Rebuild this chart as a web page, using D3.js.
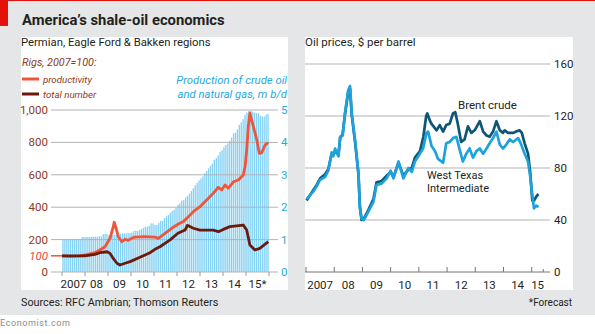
<!DOCTYPE html>
<html>
<head>
<meta charset="utf-8">
<script src="https://cdn.jsdelivr.net/npm/d3@7"></script>
<style>
  html, body { margin: 0; padding: 0; background: #fff; }
  svg { display: block; font-family: Roboto, "Open Sans", sans-serif; }
</style>
</head>
<body>
<svg id="chart" width="595" height="334"></svg>
<script>
// Monthly shale production, m b/d (Jan 2007 .. Dec 2015)
const production = [
  1.00, 1.00, 1.00, 1.00, 1.00, 1.00, 1.00, 1.00, 1.00, 1.00, 1.08, 1.08, // 2007
  1.08, 1.08, 1.08, 1.09, 1.09, 1.09, 1.09, 1.10, 1.10, 1.17, 1.18, 1.17, // 2008
  1.14, 1.13, 1.14, 1.15, 1.15, 1.16, 1.18, 1.19, 1.19, 1.19, 1.20, 1.20, // 2009
  1.22, 1.27, 1.27, 1.27, 1.30, 1.32, 1.36, 1.40, 1.40, 1.42, 1.50, 1.50, // 2010
  1.45, 1.45, 1.52, 1.58, 1.58, 1.66, 1.72, 1.76, 1.82, 1.88, 1.92, 1.98, // 2011
  2.07, 2.12, 2.20, 2.22, 2.30, 2.35, 2.42, 2.50, 2.58, 2.68, 2.75, 2.82, // 2012
  2.89, 2.95, 3.05, 3.12, 3.20, 3.28, 3.35, 3.46, 3.52, 3.60, 3.70, 3.76, // 2013
  3.85, 3.92, 3.97, 4.05, 4.15, 4.28, 4.30, 4.40, 4.54, 4.62, 4.72, 4.85, // 2014
  4.92, 4.98, 4.98, 4.95, 4.92, 4.90, 4.90, 4.82, 4.80, 4.80, 4.86, 4.88  // 2015
];

// Rigs, 2007=100 : [decimal year, index]
const productivity = [
  [2007.0, 100], [2007.35, 97], [2007.78, 100], [2008.0, 105], [2008.43, 119],
  [2008.65, 136], [2008.87, 156], [2009.09, 208], [2009.23, 280], [2009.27, 307],
  [2009.35, 270], [2009.45, 218], [2009.6, 187], [2009.74, 202], [2009.88, 195],
  [2010.03, 208], [2010.17, 215], [2010.6, 218], [2011.04, 215], [2011.19, 208],
  [2011.48, 239], [2011.77, 270], [2012.06, 296], [2012.27, 311], [2012.42, 331],
  [2012.71, 372], [2013.0, 403], [2013.29, 444], [2013.58, 486], [2013.8, 523],
  [2013.94, 506], [2014.09, 537], [2014.23, 517], [2014.45, 557], [2014.67, 568],
  [2014.88, 599], [2014.96, 650], [2015.03, 753], [2015.1, 897], [2015.17, 980],
  [2015.32, 897], [2015.47, 815], [2015.58, 732], [2015.68, 735], [2015.83, 784],
  [2015.97, 798]
];

const rigCount = [
  [2007.0, 100], [2008.0, 100], [2008.43, 109], [2008.65, 119], [2008.96, 125],
  [2009.09, 115], [2009.22, 85], [2009.39, 54], [2009.52, 43], [2009.74, 54],
  [2009.96, 64], [2010.39, 91], [2010.83, 119], [2011.04, 140], [2011.26, 156],
  [2011.7, 198], [2012.04, 239], [2012.35, 259], [2012.45, 288], [2012.71, 270],
  [2013.0, 259], [2013.58, 259], [2013.8, 249], [2014.01, 263], [2014.3, 280],
  [2014.88, 290], [2015.03, 259], [2015.17, 167], [2015.39, 136], [2015.6, 146],
  [2015.97, 187]
];

// Oil prices, $ per barrel : [decimal year, price]
const wti = [
  [2007.02, 56], [2007.26, 62], [2007.38, 66], [2007.5, 71], [2007.67, 73],
  [2007.79, 78], [2007.91, 92], [2007.97, 89], [2008.03, 95], [2008.15, 89],
  [2008.21, 104], [2008.3, 105], [2008.38, 122], [2008.5, 140], [2008.56, 143],
  [2008.62, 122], [2008.74, 101], [2008.86, 76], [2008.91, 50], [2008.97, 41],
  [2009.05, 40], [2009.15, 44], [2009.39, 54], [2009.5, 67], [2009.68, 68],
  [2009.86, 72], [2010.0, 78], [2010.1, 72], [2010.28, 85], [2010.45, 72],
  [2010.63, 80], [2010.75, 77], [2010.86, 85], [2010.98, 89], [2011.15, 95],
  [2011.27, 107], [2011.33, 108], [2011.45, 97], [2011.57, 93], [2011.68, 87],
  [2011.86, 84], [2011.97, 99], [2012.09, 100], [2012.21, 103], [2012.33, 104],
  [2012.45, 94], [2012.56, 85], [2012.68, 91], [2012.8, 95], [2012.92, 88],
  [2013.04, 93], [2013.16, 95], [2013.28, 91], [2013.4, 95], [2013.51, 99],
  [2013.63, 103], [2013.75, 108], [2013.87, 98], [2013.98, 95], [2014.1, 98],
  [2014.22, 102], [2014.34, 100], [2014.52, 103], [2014.63, 98], [2014.75, 91],
  [2014.87, 85], [2014.95, 73], [2015.02, 60], [2015.08, 49], [2015.16, 51],
  [2015.24, 50]
];

const brent = [
  [2007.02, 55], [2007.26, 63], [2007.38, 67], [2007.5, 72], [2007.67, 75],
  [2007.79, 79], [2007.91, 91], [2007.97, 90], [2008.03, 93], [2008.15, 90],
  [2008.21, 103], [2008.3, 106], [2008.38, 121], [2008.5, 139], [2008.56, 141],
  [2008.62, 121], [2008.74, 100], [2008.86, 75], [2008.91, 50], [2008.97, 40],
  [2009.05, 41], [2009.15, 45], [2009.39, 56], [2009.5, 69], [2009.68, 70],
  [2009.86, 74], [2010.0, 77], [2010.1, 73], [2010.28, 84], [2010.45, 74],
  [2010.63, 79], [2010.75, 80], [2010.86, 88], [2011.04, 93], [2011.16, 104],
  [2011.26, 120], [2011.3, 122], [2011.4, 116], [2011.45, 114], [2011.63, 109],
  [2011.74, 113], [2011.86, 108], [2011.97, 113], [2012.09, 114], [2012.21, 122],
  [2012.29, 123], [2012.38, 114], [2012.5, 100], [2012.62, 102], [2012.74, 112],
  [2012.86, 107], [2012.98, 109], [2013.16, 116], [2013.28, 108], [2013.4, 105],
  [2013.51, 104], [2013.63, 108], [2013.75, 116], [2013.87, 109], [2013.98, 107],
  [2014.04, 109], [2014.16, 107], [2014.34, 107], [2014.45, 108], [2014.57, 109],
  [2014.65, 107], [2014.75, 99], [2014.87, 91], [2014.95, 76], [2015.02, 55],
  [2015.09, 55], [2015.16, 58], [2015.24, 60]
];

const rigTicks = [0, 200, 400, 600, 800, 1000];
const productionTicks = [0, 1, 2, 3, 4, 5];
const priceTicks = [0, 40, 80, 120, 160];
const leftYearLabels = ["2007", "08", "09", "10", "11", "12", "13", "14", "15*"];
const rightYearLabels = ["2007", "08", "09", "10", "11", "12", "13", "14", "15"];

const ink = "#231f20";
const rigBrown = "#8c3a22";
const prodBlue = "#29a8e0";

const svg = d3.select("#chart");

// background, red tab, panels
svg.append("rect").attr("width", 595).attr("height", 315).attr("fill", "#e4e6e7");
svg.append("rect").attr("width", 595).attr("height", 1).attr("fill", "#e3120b");
svg.append("rect").attr("width", 8).attr("height", 26).attr("fill", "#e3120b");
svg.append("rect").attr("x", 21).attr("y", 37).attr("width", 267).attr("height", 253).attr("fill", "#fff");
svg.append("rect").attr("x", 305).attr("y", 37).attr("width", 268).attr("height", 253).attr("fill", "#fff");

svg.append("text").attr("x", 22).attr("y", 25)
  .attr("font-size", 14.8).attr("font-weight", "bold").attr("fill", ink)
  .text("America\u2019s shale-oil economics");

// ---------- left panel: rigs and production ----------
const x1 = d3.scaleLinear().domain([2007, 2016]).range([62, 269]);
const yRig = d3.scaleLinear().domain([0, 1000]).range([272, 110]);
const yProd = d3.scaleLinear().domain([0, 5]).range([272, 110]);

const left = svg.append("g");

left.append("text").attr("x", 21).attr("y", 46).attr("font-size", 11.3).attr("fill", ink)
  .text("Permian, Eagle Ford & Bakken regions");

const step = x1(2007 + 1 / 12) - x1(2007);
left.append("g").selectAll("rect").data(production).join("rect")
  .attr("x", (d, i) => x1(2007 + i / 12) + 0.3)
  .attr("width", step - 0.6)
  .attr("y", d => yProd(d))
  .attr("height", d => yProd(0) - yProd(d))
  .attr("fill", "#84d1f3");

left.append("g").selectAll("line").data(rigTicks).join("line")
  .attr("x1", 51).attr("x2", 278)
  .attr("y1", d => yRig(d)).attr("y2", d => yRig(d))
  .attr("stroke", "#b3b3b3").attr("stroke-width", 1);

left.append("g").selectAll("text").data(rigTicks).join("text")
  .attr("x", 48).attr("y", d => yRig(d) + 4)
  .attr("text-anchor", "end").attr("font-size", 11.5).attr("fill", rigBrown)
  .text(d => d3.format(",")(d));

// the 2007=100 base marker
left.append("line").attr("x1", 51).attr("x2", x1(2007))
  .attr("y1", yRig(100)).attr("y2", yRig(100))
  .attr("stroke", "#f0553a").attr("stroke-width", 1.5);
left.append("text").attr("x", 48).attr("y", yRig(100) + 4)
  .attr("text-anchor", "end").attr("font-size", 11.5).attr("font-style", "italic")
  .attr("fill", "#e8473a").text("100");

left.append("g").selectAll("text").data(productionTicks).join("text")
  .attr("x", 281).attr("y", d => yProd(d) + 4)
  .attr("font-size", 11.5).attr("fill", prodBlue)
  .text(d => d);

// year ticks hang below the zero line
left.append("g").selectAll("line").data(d3.range(2007, 2017)).join("line")
  .attr("x1", d => x1(d)).attr("x2", d => x1(d))
  .attr("y1", 272).attr("y2", 276)
  .attr("stroke", "#999");
left.append("g").selectAll("text").data(leftYearLabels).join("text")
  .attr("x", (d, i) => x1(2007.5 + i)).attr("y", 288)
  .attr("text-anchor", "middle").attr("font-size", 11.5).attr("fill", ink)
  .text(d => d);

const line1 = d3.line().x(d => x1(d[0])).y(d => yRig(d[1]));
left.append("path").datum(productivity).attr("d", line1)
  .attr("fill", "none").attr("stroke", "#f0553a").attr("stroke-width", 2.8)
  .attr("stroke-linejoin", "round");
left.append("path").datum(rigCount).attr("d", line1)
  .attr("fill", "none").attr("stroke", "#6b1a0c").attr("stroke-width", 2.8)
  .attr("stroke-linejoin", "round");

// legend
left.append("text").attr("x", 22).attr("y", 66).attr("font-size", 10.8)
  .attr("font-style", "italic").attr("fill", rigBrown).text("Rigs, 2007=100:");
const legend = [["productivity", "#f0553a", 79], ["total number", "#6b1a0c", 94]];
legend.forEach(([label, colour, y]) => {
  left.append("line").attr("x1", 22).attr("x2", 39).attr("y1", y).attr("y2", y)
    .attr("stroke", colour).attr("stroke-width", 3);
  left.append("text").attr("x", 43).attr("y", y + 4).attr("font-size", 9.7)
    .attr("font-style", "italic").attr("fill", rigBrown).text(label);
});
left.append("text").attr("x", 287).attr("y", 84).attr("text-anchor", "end")
  .attr("font-size", 11.3).attr("font-style", "italic").attr("fill", prodBlue)
  .text("Production of crude oil");
left.append("text").attr("x", 287).attr("y", 98).attr("text-anchor", "end")
  .attr("font-size", 11.3).attr("font-style", "italic").attr("fill", prodBlue)
  .text("and natural gas, m b/d");

// ---------- right panel: oil prices ----------
const x2 = d3.scaleLinear().domain([2007, 2015]).range([306, 531.7]);
const yPrice = d3.scaleLinear().domain([0, 160]).range([272, 64]);

const right = svg.append("g");

right.append("text").attr("x", 305).attr("y", 46).attr("font-size", 11.5).attr("fill", ink)
  .text("Oil prices, $ per barrel");

right.append("g").selectAll("line").data(priceTicks.filter(d => d > 0)).join("line")
  .attr("x1", 305).attr("x2", 550)
  .attr("y1", d => yPrice(d)).attr("y2", d => yPrice(d))
  .attr("stroke", "#b3b3b3");
right.append("line").attr("x1", 305).attr("x2", 550)
  .attr("y1", yPrice(0)).attr("y2", yPrice(0)).attr("stroke", "#777");
right.append("g").selectAll("text").data(priceTicks).join("text")
  .attr("x", 554).attr("y", d => yPrice(d) + 4)
  .attr("font-size", 11.5).attr("fill", ink)
  .text(d => d);

const rightTicks = d3.range(2007, 2016).concat([2015.41]);
right.append("g").selectAll("line").data(rightTicks).join("line")
  .attr("x1", d => x2(d)).attr("x2", d => x2(d))
  .attr("y1", 272).attr("y2", d => d === 2015.41 ? 269 : 267)
  .attr("stroke", "#777");
right.append("g").selectAll("text").data(rightYearLabels).join("text")
  .attr("x", (d, i) => i < 8 ? x2(2007.5 + i) : x2(2015.21)).attr("y", 289)
  .attr("text-anchor", "middle").attr("font-size", 11.5).attr("fill", ink)
  .text(d => d);

const line2 = d3.line().x(d => x2(d[0])).y(d => yPrice(d[1]));
right.append("path").datum(brent).attr("d", line2)
  .attr("fill", "none").attr("stroke", "#0f5674").attr("stroke-width", 2.7)
  .attr("stroke-linejoin", "round");
right.append("path").datum(wti).attr("d", line2)
  .attr("fill", "none").attr("stroke", "#1da2dc").attr("stroke-width", 2.7)
  .attr("stroke-linejoin", "round");

right.append("text").attr("x", 458).attr("y", 109).attr("font-size", 11.5).attr("fill", ink)
  .text("Brent crude");
right.append("text").attr("x", 427).attr("y", 179).attr("font-size", 11).attr("fill", ink)
  .text("West Texas");
right.append("text").attr("x", 427).attr("y", 192).attr("font-size", 11).attr("fill", ink)
  .text("Intermediate");

// ---------- footer ----------
svg.append("text").attr("x", 21).attr("y", 306).attr("font-size", 10.8).attr("fill", ink)
  .text("Sources: RFC Ambrian; Thomson Reuters");
svg.append("text").attr("x", 572).attr("y", 306).attr("text-anchor", "end")
  .attr("font-size", 10).attr("fill", ink).text("*Forecast");
svg.append("text").attr("x", 0).attr("y", 326).attr("font-size", 9)
  .attr("letter-spacing", 0.6).attr("fill", "#8a8a8a").text("Economist.com");
</script>
</body>
</html>
